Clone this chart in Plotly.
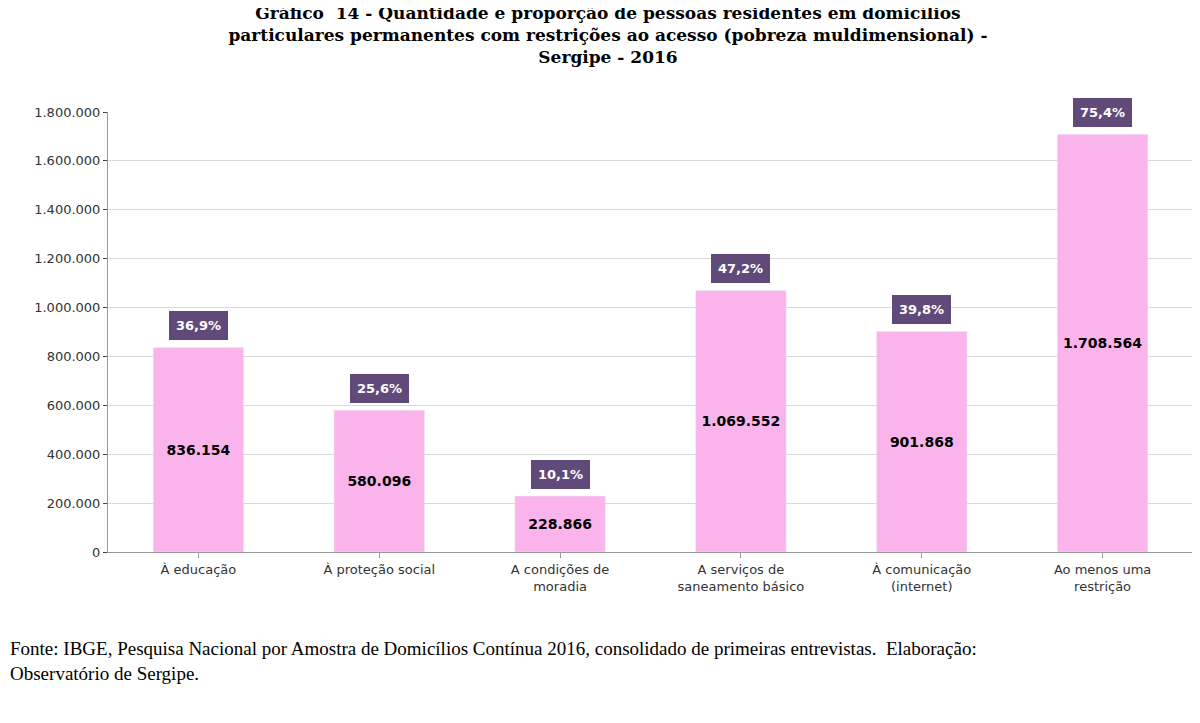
import plotly.graph_objects as go

categorias = ["À educação", "À proteção social", "A condições de<br>moradia",
              "A serviços de<br>saneamento básico", "À comunicação<br>(internet)", "Ao menos uma<br>restrição"]
pessoas = [836154, 580096, 228866, 1069552, 901868, 1708564]
proporcao = ["36,9%", "25,6%", "10,1%", "47,2%", "39,8%", "75,4%"]
rotulos = ["<b>836.154</b>", "<b>580.096</b>", "<b>228.866</b>", "<b>1.069.552</b>", "<b>901.868</b>", "<b>1.708.564</b>"]
ticks = [0, 200000, 400000, 600000, 800000, 1000000, 1200000, 1400000, 1600000, 1800000]
tick_text = ["0", "200.000", "400.000", "600.000", "800.000", "1.000.000", "1.200.000", "1.400.000", "1.600.000", "1.800.000"]

fig = go.Figure(go.Bar(x = categorias, y = pessoas, text = rotulos, textposition = "inside",
                       insidetextanchor = "middle", marker_color = "#FAB4EB", width = 0.5,
                       textfont = dict(family = "DejaVu Sans", size = 14, color = "black")))

for cat, val, p in zip(categorias, pessoas, proporcao):  # caixas roxas com a proporcao
    fig.add_annotation(x = cat, y = val, text = "<b>" + p + "</b>", showarrow = False, yshift = 22,
                       bgcolor = "#5F4A7A", bordercolor = "#5F4A7A", borderpad = 6,
                       font = dict(color = "white", size = 13, family = "DejaVu Sans"))

fig.add_annotation(xref = "paper", yref = "paper", x = -0.092, y = -0.19, xanchor = "left", yanchor = "top",
                   align = "left", showarrow = False,
                   text = "Fonte: IBGE, Pesquisa Nacional por Amostra de Domicílios Contínua 2016, consolidado de primeiras entrevistas.  Elaboração:<br>Observatório de Sergipe.",
                   font = dict(family = "Liberation Serif", size = 19, color = "black"))

fig.update_layout(
    title = dict(text = "<b>Gráfico  14 - Quantidade e proporção de pessoas residentes em domicílios<br>particulares permanentes com restrições ao acesso (pobreza muldimensional) -<br>Sergipe - 2016</b>",
                 x = 0.5, y = 0.985, xanchor = "center", font = dict(family = "DejaVu Serif", size = 17, color = "black")),
    width = 1200, height = 723, paper_bgcolor = "white", plot_bgcolor = "white",
    margin = dict(l = 100, r = 15, t = 104, b = 179), bargap = 0.5, showlegend = False,
    font = dict(family = "DejaVu Sans", size = 13, color = "#333333"),
)
fig.update_yaxes(range = [0, 1800000], tickvals = ticks, ticktext = tick_text, showgrid = True,
                 gridcolor = "#D9D9D9", showline = True, linecolor = "#999999", ticks = "outside", ticklen = 4)
fig.update_xaxes(showline = True, linecolor = "#999999", ticks = "outside", tickcolor = "#999999")

fig.write_html("out.html")
